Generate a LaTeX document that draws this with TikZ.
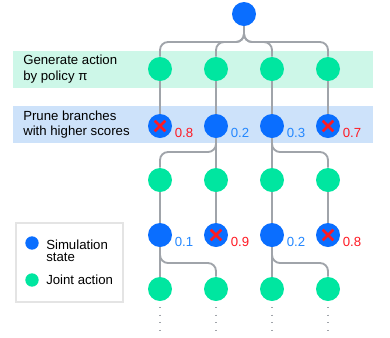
\documentclass[tikz,border=0pt]{standalone}
\usepackage{fontspec}
\setmainfont{Liberation Sans}
\definecolor{simblue}{RGB}{10,110,255}
\definecolor{actgreen}{RGB}{0,230,160}
\definecolor{bandgreen}{RGB}{205,247,232}
\definecolor{bandblue}{RGB}{205,226,250}
\definecolor{linegray}{RGB}{160,164,170}
\definecolor{boxgray}{RGB}{228,228,228}
\definecolor{cutred}{RGB}{255,25,35}
\definecolor{scoreblue}{RGB}{35,135,255}

\begin{document}
\begin{tikzpicture}[x=0.75pt,y=-0.75pt,
  every node/.style={font=\fontsize{9.9}{11.8}\selectfont},
  state/.style={circle,fill=simblue,minimum size=18pt,inner sep=0pt},
  action/.style={circle,fill=actgreen,minimum size=18pt,inner sep=0pt},
  pruned/.style={state,path picture={
      \draw[cutred,line width=1.9pt]
        ([shift={(-4pt,-4pt)}]path picture bounding box.center) -- ++(8pt,8pt)
        ([shift={(-4pt,4pt)}]path picture bounding box.center) -- ++(8pt,-8pt);}},
  score/.style={anchor=west,inner sep=0pt},
  link/.style={draw=linegray,line width=1.4pt,rounded corners=6pt},
  trail/.style={draw=linegray,line width=0.9pt,dash pattern=on 0.9pt off 4.8pt},
  band/.style={anchor=west,align=left,inner sep=0pt}]
  \useasboundingbox (0,0) rectangle (390,337);

  % bands
  \fill[bandgreen] (13,51) rectangle (373,88);
  \fill[bandblue] (13,106) rectangle (373,143);
  \node[band] (gen) at (23,69) {Generate action\\by policy π};
  \node[band] (prune) at (23,124.5) {Prune branches\\with higher scores};

  % tree
  \node[state] (root) at (244,14) {};
  \coordinate (split) at (244,42);
  \foreach \x/\i/\p/\v/\c in {160/1/pruned/0.8/cutred, 216/2/state/0.2/scoreblue,
                              272/3/state/0.3/scoreblue, 328/4/pruned/0.7/cutred} {
    \node[action] (act1\i) at (\x,69) {};
    \node[\p] (st1\i) at (\x,126) {};
    \node[score,text=\c] (sc1\i) at ({\x+14.5},133) {\v};
    \draw[link] (root.south) |- (act1\i |- split) -- (act1\i.north);
    \draw[link] (act1\i) -- (st1\i);
  }
  \foreach \x/\i/\p/\v/\c in {160/1/state/0.1/scoreblue, 216/2/pruned/0.9/cutred,
                              272/3/state/0.2/scoreblue, 328/4/pruned/0.8/cutred} {
    \node[action] (act2\i) at (\x,180) {};
    \node[\p] (st2\i) at (\x,235) {};
    \node[score,text=\c] (sc2\i) at ({\x+14.5},242) {\v};
    \draw[link] (act2\i) -- (st2\i);
    \node[action] (act3\i) at (\x,289) {};
    \coordinate (tail\i) at (\x,331);
    \draw[trail] (act3\i) ++(0,18) -- (tail\i);
  }
  \coordinate (fork1) at (0,152);
  \coordinate (fork2) at (0,263);
  \draw[link] (st12) -- (act22);
  \draw[link] (st12.south) |- (act21 |- fork1) -- (act21.north);
  \draw[link] (st13) -- (act23);
  \draw[link] (st13.south) |- (act24 |- fork1) -- (act24.north);
  \draw[link] (st21) -- (act31);
  \draw[link] (st21.south) |- (act32 |- fork2) -- (act32.north);
  \draw[link] (st23) -- (act33);
  \draw[link] (st23.south) |- (act34 |- fork2) -- (act34.north);

  % legend
  \node[draw=boxgray,line width=1.1pt,fill=white,minimum width=80pt,
        minimum height=59pt,inner sep=0pt] (legend) at (69.5,262.5) {};
  \node[state,minimum size=10pt] (keystate) at (32,243) {};
  \node[band,font=\fontsize{9.9}{9}\selectfont] (keystatetxt) at (46,250.3) {Simulation\\state};
  \node[action,minimum size=10pt] (keyaction) at (32,280) {};
  \node[band] (keyactiontxt) at (46,280) {Joint action};
\end{tikzpicture}
\end{document}
